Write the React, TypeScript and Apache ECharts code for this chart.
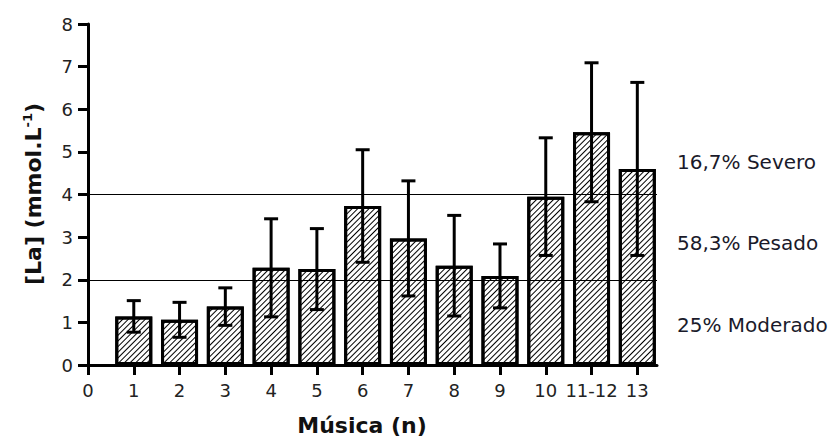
import React, { useEffect, useRef } from "react";
import * as echarts from "echarts";

const tickLabels = ["0", "1", "2", "3", "4", "5", "6", "7", "8", "9", "10", "11-12", "13"];
const barCategories = ["1", "2", "3", "4", "5", "6", "7", "8", "9", "10", "11-12", "13"];
const means = [1.14, 1.06, 1.37, 2.28, 2.25, 3.73, 2.97, 2.33, 2.09, 3.95, 5.46, 4.6];
const sds = [0.37, 0.41, 0.44, 1.15, 0.95, 1.32, 1.35, 1.18, 0.75, 1.38, 1.63, 2.03];
const thresholds = [2, 4];
const zoneLabels = ["16,7% Severo", "58,3% Pesado", "25% Moderado"];

export default function App() {
  const ref = useRef<HTMLDivElement>(null);
  useEffect(() => {
    if (!ref.current) return;
    const chart = echarts.init(ref.current, null, { renderer: "svg" });
    const pos = barCategories.map((c) => tickLabels.indexOf(c));
    const barData = means.map((m, i) => [pos[i], m]);
    const errData = means.map((m, i) => [pos[i], m, sds[i]]);
    const tickVals = tickLabels.map((_, i) => i);
    const font = "DejaVu Sans";
    chart.setOption({
      animation: false,
      backgroundColor: "#fff",
      grid: { left: 88, right: 178, top: 24, bottom: 72, containLabel: false },
      xAxis: {
        type: "value",
        min: 0,
        max: 12.43,
        axisLine: { show: true, lineStyle: { color: "#000", width: 3 } },
        axisTick: { show: true, customValues: tickVals, length: 10, lineStyle: { color: "#000", width: 3 } },
        axisLabel: {
          customValues: tickVals,
          formatter: (v: number) => tickLabels[Math.round(v)] ?? "",
          color: "#222",
          fontFamily: font,
          fontSize: 18,
          margin: 16,
        },
        splitLine: { show: false },
      },
      yAxis: {
        type: "value",
        min: 0,
        max: 8,
        interval: 1,
        axisLine: { show: true, lineStyle: { color: "#000", width: 3 } },
        axisTick: { show: true, length: 10, lineStyle: { color: "#000", width: 3 } },
        axisLabel: { color: "#222", fontFamily: font, fontSize: 18, margin: 15 },
        splitLine: { show: false },
      },
      series: [
        {
          type: "bar",
          data: barData,
          barWidth: 37,
          itemStyle: {
            color: "#fff",
            borderColor: "#000",
            borderWidth: 3,
            decal: {
              symbol: "rect",
              symbolSize: 1,
              color: "#000",
              dashArrayX: [1, 0],
              dashArrayY: [1, 3],
              rotation: -Math.PI / 4,
            },
          },
          markLine: {
            silent: true,
            symbol: "none",
            label: { show: false },
            lineStyle: { color: "#000", width: 1, type: "solid" },
            data: thresholds.map((t) => ({ yAxis: t })),
          },
          z: 2,
        },
        {
          type: "custom",
          data: errData,
          z: 5,
          renderItem: (params: any, api: any) => {
            const x = api.value(0);
            const m = api.value(1);
            const s = api.value(2);
            const top = api.coord([x, m + s]);
            const bot = api.coord([x, m - s]);
            const half = 7;
            const st = { stroke: "#000", lineWidth: 3 };
            return {
              type: "group",
              children: [
                { type: "line", shape: { x1: top[0], y1: top[1], x2: bot[0], y2: bot[1] }, style: st },
                { type: "line", shape: { x1: top[0] - half, y1: top[1], x2: top[0] + half, y2: top[1] }, style: st },
                { type: "line", shape: { x1: bot[0] - half, y1: bot[1], x2: bot[0] + half, y2: bot[1] }, style: st },
              ],
            };
          },
        },
      ],
      graphic: [
        {
          type: "text",
          x: 33,
          y: 194,
          rotation: Math.PI / 2,
          style: {
            text: "{a|[La] (mmol.L}{b|-1}{a|)}",
            align: "center",
            verticalAlign: "middle",
            rich: {
              a: { fontFamily: font, fontWeight: "bold", fontSize: 22, fill: "#111" },
              b: { fontFamily: font, fontWeight: "bold", fontSize: 13, fill: "#111", verticalAlign: "top", padding: [0, 0, 12, 0] },
            },
          },
        },
        {
          type: "text",
          x: 362,
          y: 425,
          style: {
            text: "Música (n)",
            align: "center",
            verticalAlign: "middle",
            fontFamily: font,
            fontWeight: "bold",
            fontSize: 22,
            fill: "#111",
          },
        },
        ...zoneLabels.map((t, i) => ({
          type: "text",
          x: 677,
          y: [162, 243, 325][i],
          style: { text: t, align: "left", verticalAlign: "middle", fontFamily: font, fontSize: 20, fill: "#1a1a2a" },
        })),
      ],
    });
    return () => chart.dispose();
  }, []);
  return <div ref={ref} style={{ width: 835, height: 437, position: "absolute", left: 0, top: 0 }} />;
}
